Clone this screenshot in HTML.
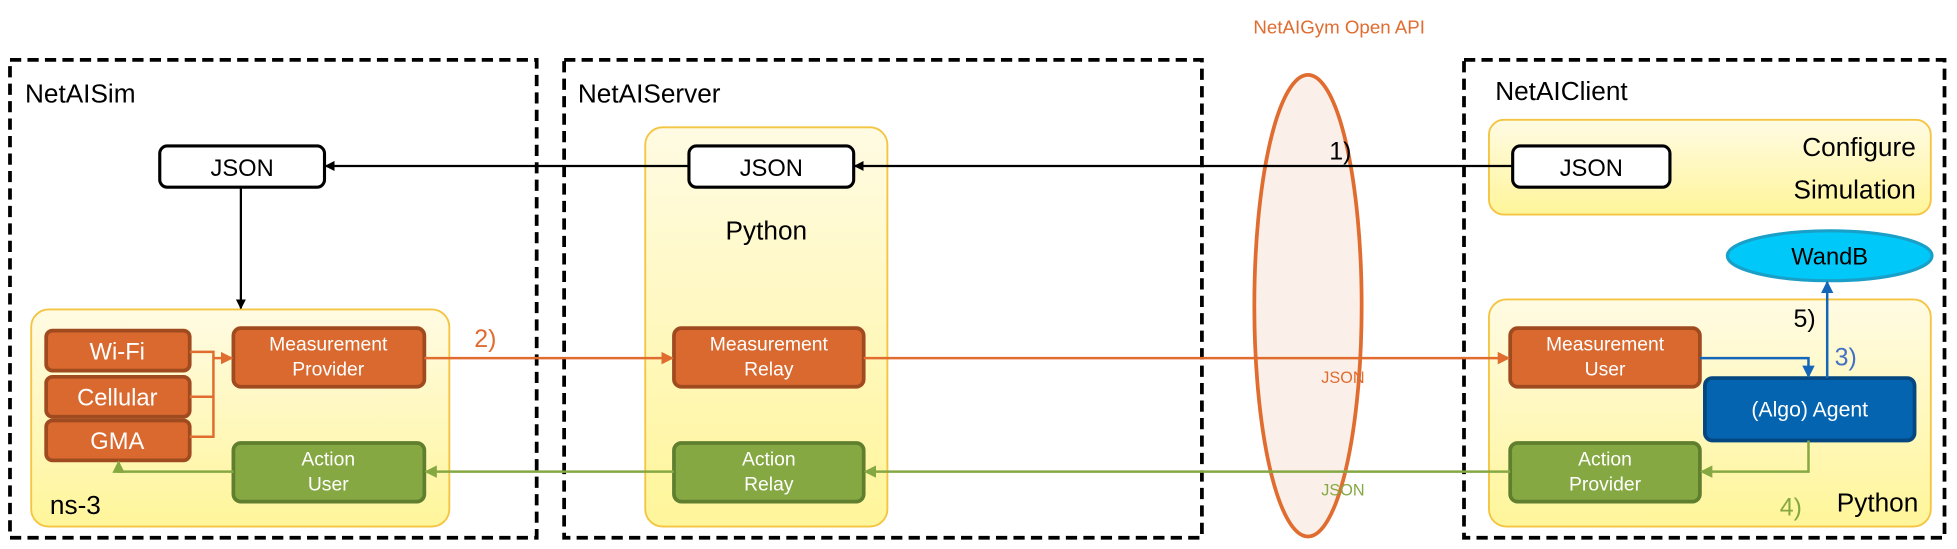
<!DOCTYPE html>
<html><head><meta charset="utf-8"><style>html,body{margin:0;padding:0;background:#fff}svg{display:block}</style></head>
<body>
<svg width="1957" height="549" viewBox="0 0 1568 440" preserveAspectRatio="none" xmlns="http://www.w3.org/2000/svg" font-family="Liberation Sans, sans-serif">
<defs>
<linearGradient id="y" x1="0" y1="0" x2="0" y2="1"><stop offset="0" stop-color="#fffbe3"/><stop offset="1" stop-color="#fff59a"/></linearGradient>
<marker id="ak" markerWidth="8" markerHeight="8" refX="7" refY="4" orient="auto" markerUnits="userSpaceOnUse"><path d="M0,0 L8,4 L0,8z" fill="#000"/></marker>
<marker id="ao" markerWidth="10" markerHeight="10" refX="9" refY="5" orient="auto" markerUnits="userSpaceOnUse"><path d="M0,0 L10,5 L0,10z" fill="#e06c30"/></marker>
<marker id="ag" markerWidth="10" markerHeight="10" refX="9" refY="5" orient="auto" markerUnits="userSpaceOnUse"><path d="M0,0 L10,5 L0,10z" fill="#86a843"/></marker>
<marker id="ab" markerWidth="10" markerHeight="10" refX="9" refY="5" orient="auto" markerUnits="userSpaceOnUse"><path d="M0,0 L10,5 L0,10z" fill="#1466b8"/></marker>
</defs>
<g fill="none" stroke="#000" stroke-width="3" stroke-dasharray="9,5">
<rect x="8" y="48" width="422" height="383"/>
<rect x="452" y="48" width="511" height="383"/>
<rect x="1173" y="48" width="385" height="383"/>
</g>
<g font-size="21" fill="#000"><text x="20" y="82">NetAISim</text><text x="463" y="82">NetAIServer</text><text x="1198" y="80">NetAIClient</text></g>
<text x="1073" y="27" font-size="15" fill="#e06c30" text-anchor="middle">NetAIGym Open API</text>
<ellipse cx="1048" cy="245" rx="43" ry="185" fill="#fbf0e9" stroke="#e06c30" stroke-width="3"/>
<g fill="url(#y)" stroke="#f4c542" stroke-width="1.5">
<rect x="25" y="248" width="335" height="174" rx="14"/>
<rect x="517" y="102" width="194" height="320" rx="14"/>
<rect x="1193" y="96" width="354" height="76" rx="12"/>
<rect x="1193" y="240" width="354" height="182" rx="14"/>
</g>
<g font-size="21" fill="#000">
<text x="614" y="192" text-anchor="middle">Python</text>
<text x="40" y="412">ns-3</text>
<text x="1535" y="125" text-anchor="end">Configure</text>
<text x="1535" y="159" text-anchor="end">Simulation</text>
<text x="1537" y="410" text-anchor="end">Python</text>
</g>
<g fill="#fff" stroke="#000" stroke-width="2.5">
<rect x="128" y="117" width="132" height="33" rx="6"/>
<rect x="552" y="117" width="132" height="33" rx="6"/>
<rect x="1212" y="117" width="126" height="33" rx="6"/>
</g>
<g font-size="19" text-anchor="middle"><text x="194" y="141">JSON</text><text x="618" y="141">JSON</text><text x="1275" y="141">JSON</text></g>
<g stroke="#000" stroke-width="1.8" marker-end="url(#ak)">
<line x1="1212" y1="133" x2="685" y2="133"/>
<line x1="552" y1="133" x2="261" y2="133"/>
<line x1="193" y1="150" x2="193" y2="247"/>
</g>
<text x="1065" y="128" font-size="20">1)</text>
<g fill="#d9692f" stroke="#a04a20" stroke-width="3">
<rect x="37" y="265" width="115" height="32" rx="5"/>
<rect x="37" y="302" width="115" height="32" rx="5"/>
<rect x="37" y="337" width="115" height="32" rx="5"/>
<rect x="187" y="263" width="153" height="47" rx="6"/>
<rect x="540" y="263" width="152" height="47" rx="6"/>
<rect x="1210" y="263" width="152" height="47" rx="6"/>
</g>
<g fill="#86a843" stroke="#5f7f2f" stroke-width="3">
<rect x="187" y="355" width="153" height="47" rx="6"/>
<rect x="540" y="355" width="152" height="47" rx="6"/>
<rect x="1210" y="355" width="152" height="47" rx="6"/>
</g>
<rect x="1366" y="303" width="168" height="50" rx="6" fill="#0564b0" stroke="#04467f" stroke-width="3"/>
<ellipse cx="1466" cy="205" rx="82" ry="20" fill="#00c8f8" stroke="#1aa0c8" stroke-width="2.5"/>
<text x="1466" y="212" font-size="19" text-anchor="middle">WandB</text>
<g fill="#fff" text-anchor="middle">
<g font-size="19"><text x="94" y="288">Wi-Fi</text><text x="94" y="325">Cellular</text><text x="94" y="360">GMA</text></g>
<g font-size="15.5">
<text x="263" y="281">Measurement</text><text x="263" y="301">Provider</text>
<text x="616" y="281">Measurement</text><text x="616" y="301">Relay</text>
<text x="1286" y="281">Measurement</text><text x="1286" y="301">User</text>
<text x="263" y="373">Action</text><text x="263" y="393">User</text>
<text x="616" y="373">Action</text><text x="616" y="393">Relay</text>
<text x="1286" y="373">Action</text><text x="1286" y="393">Provider</text>
</g>
<text x="1450" y="334" font-size="17">(Algo) Agent</text>
</g>
<g stroke="#e06c30" stroke-width="2" fill="none">
<polyline points="152,282 171,282 171,350 152,350"/>
<line x1="152" y1="318" x2="171" y2="318"/>
<line x1="171" y1="287" x2="186" y2="287" marker-end="url(#ao)"/>
<line x1="340" y1="287" x2="539" y2="287" marker-end="url(#ao)"/>
<line x1="692" y1="287" x2="1209" y2="287" marker-end="url(#ao)"/>
</g>
<text x="380" y="278" font-size="20" fill="#e06c30">2)</text>
<text x="1076" y="307" font-size="13" fill="#e06c30" text-anchor="middle">JSON</text>
<g stroke="#86a843" stroke-width="2" fill="none">
<line x1="1210" y1="378" x2="693" y2="378" marker-end="url(#ag)"/>
<line x1="540" y1="378" x2="341" y2="378" marker-end="url(#ag)"/>
<polyline points="187,378 95,378 95,370" marker-end="url(#ag)"/>
<polyline points="1449,353 1449,378 1363,378" marker-end="url(#ag)"/>
</g>
<text x="1076" y="397" font-size="13" fill="#86a843" text-anchor="middle">JSON</text>
<text x="1426" y="413" font-size="20" fill="#86a843">4)</text>
<g stroke="#1466b8" stroke-width="2" fill="none">
<polyline points="1362,287 1449,287 1449,302" marker-end="url(#ab)"/>
<line x1="1464" y1="303" x2="1464" y2="226" marker-end="url(#ab)"/>
</g>
<text x="1437" y="262" font-size="20">5)</text>
<text x="1470" y="293" font-size="20" fill="#4472c4">3)</text>
</svg>
</body></html>
